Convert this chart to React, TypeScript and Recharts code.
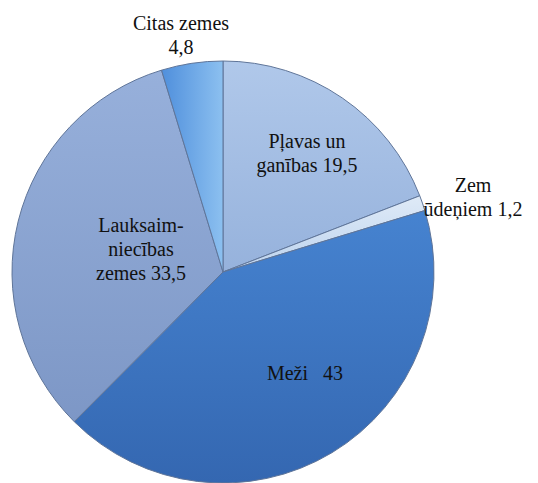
import { Cell, Pie, PieChart } from "recharts";

const categories = [
  "Pļavas un ganības",
  "Zem ūdeņiem",
  "Meži",
  "Lauksaimniecības zemes",
  "Citas zemes",
];
const values = [19.5, 1.2, 43, 33.5, 4.8];
const valueLabels = ["19,5", "1,2", "43", "33,5", "4,8"];
const labelLines = [
  ["Pļavas un", "ganības 19,5"],
  ["Zem", "ūdeņiem 1,2"],
  ["Meži   43"],
  ["Lauksaim-", "niecības", "zemes 33,5"],
  ["Citas zemes", "4,8"],
];

const data = categories.map((name, i) => ({ name, value: values[i], display: valueLabels[i] }));

// top / bottom colour of each slice's gradient
const gradients = [
  ["#b0c8ea", "#96b2dc"],
  ["#dfeaf7", "#bcd3ee"],
  ["#4683d0", "#3467b1"],
  ["#97b0db", "#7d97c6"],
  ["#4f8fdc", "#8cc0f0"],
];

// label centre offsets from the pie centre, in px
const labelOffsets = [
  [84, -119],
  [250, -75],
  [82, 101],
  [-82, -23],
  [-42, -237],
];

const CX = 218;
const CY = 267;
const SERIF = "Times New Roman, Liberation Serif, Times, DejaVu Serif, Noto Serif, serif";

function renderLabel(props: any) {
  const i = props.index;
  const lines = labelLines[i];
  const [dx, dy] = labelOffsets[i];
  const x = props.cx + dx;
  const lineH = 24;
  const top = props.cy + dy - ((lines.length - 1) * lineH) / 2;
  return (
    <text
      key={`lbl-${i}`}
      x={x}
      y={top}
      textAnchor="middle"
      dominantBaseline="central"
      fill="#111"
      fontFamily={SERIF}
      fontSize={20}
      style={{ whiteSpace: "pre" }}
    >
      {lines.map((line, j) => (
        <tspan key={j} x={x} dy={j === 0 ? 0 : lineH} fontFamily={SERIF}>
          {line}
        </tspan>
      ))}
    </text>
  );
}

export default function App() {
  return (
    <div
      style={{
        position: "absolute",
        left: 0,
        top: 0,
        width: 538,
        height: 483,
        background: "#fff",
      }}
    >
      <PieChart width={538} height={483}>
        <defs>
          {gradients.map(([a, b], i) => (
            <linearGradient
              key={i}
              id={`slice${i}`}
              x1="0"
              y1="0"
              x2={i === 4 ? "1" : "0"}
              y2={i === 4 ? "0" : "1"}
            >
              <stop offset="0%" stopColor={a} />
              <stop offset="100%" stopColor={b} />
            </linearGradient>
          ))}
        </defs>
        <Pie
          data={data}
          dataKey="value"
          nameKey="name"
          cx={CX}
          cy={CY}
          outerRadius={211}
          startAngle={90}
          endAngle={-270}
          stroke="#5f7599"
          strokeWidth={1}
          label={renderLabel}
          labelLine={false}
          isAnimationActive={false}
        >
          {data.map((d, i) => (
            <Cell key={d.name} fill={`url(#slice${i})`} />
          ))}
        </Pie>
      </PieChart>
    </div>
  );
}
